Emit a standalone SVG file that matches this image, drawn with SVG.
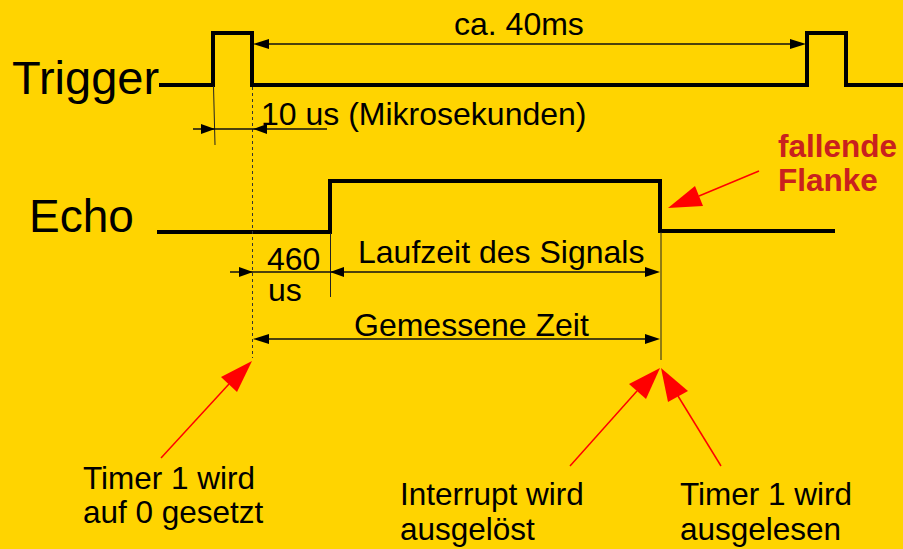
<svg xmlns="http://www.w3.org/2000/svg" width="903" height="549" viewBox="0 0 903 549">
<style>
.t{font-family:"Liberation Sans",Arial,sans-serif;font-size:32px;fill:#000}
.n{font-size:31.5px}
.big{font-size:47px}
.red{fill:#c9211e;font-weight:bold;font-size:31.5px}
.sig{fill:none;stroke:#000;stroke-width:4;stroke-linejoin:miter}
.dim{stroke:#111;stroke-width:1.3;fill:none}
.ext{stroke:#222;stroke-width:1;fill:none}
.dash{stroke:#333;stroke-width:1;stroke-dasharray:3,3;fill:none}
.ah{fill:#000}
.rl{stroke:#ff0000;stroke-width:1.5;fill:none}
.rh{fill:#ff0000}
</style>
<rect x="0" y="0" width="903" height="549" fill="#ffd400"/>
<g id="trigger">
<text class="t big" x="12" y="94">Trigger</text>
<path class="sig" d="M159,85 H213 V33 H252 V85 H807 V33 H846 V85 H903"/>
</g>
<g id="echo">
<text class="t big" x="29" y="232" style="font-size:46px">Echo</text>
<path class="sig" d="M157,232 H330 V181 H660 V231 H835"/>
</g>
<g id="labels">
<text class="t" x="454" y="35">ca. 40ms</text>
<text class="t" x="261" y="125">10 us (Mikrosekunden)</text>
<text class="t" x="267" y="270">460</text>
<text class="t" x="268" y="301">us</text>
<text class="t" x="358" y="263">Laufzeit des Signals</text>
<text class="t" x="354" y="336">Gemessene Zeit</text>
<text class="t red" x="778" y="157">fallende</text>
<text class="t red" x="778" y="191">Flanke</text>
</g>
<g id="note-timer-reset">
<text class="t n" x="83" y="489">Timer 1 wird</text>
<text class="t n" x="83" y="523">auf 0 gesetzt</text>
</g>
<g id="note-interrupt">
<text class="t n" x="400" y="505">Interrupt wird</text>
<text class="t n" x="400" y="540">ausgelöst</text>
</g>
<g id="note-timer-read">
<text class="t n" x="680" y="505">Timer 1 wird</text>
<text class="t n" x="680" y="540">ausgelesen</text>
</g>
<g id="connectors">
<line class="ext" x1="213.5" y1="86" x2="215" y2="145"/>
<line class="dash" x1="252.5" y1="87" x2="252.5" y2="358"/>
<line class="ext" x1="330.5" y1="233" x2="330.5" y2="297"/>
<line class="ext" x1="661" y1="232" x2="661" y2="360"/>
<line class="dim" x1="262" y1="44" x2="798" y2="44"/>
<polygon class="ah" points="253,44 269,39 269,49"/>
<polygon class="ah" points="806,44 790,39 790,49"/>
<line class="dim" x1="193" y1="129" x2="327" y2="129"/>
<polygon class="ah" points="215,129 201,124 201,134"/>
<polygon class="ah" points="253,129 267,124 267,134"/>
<line class="dim" x1="230" y1="272" x2="652" y2="272"/>
<polygon class="ah" points="253,272 239,267 239,277"/>
<polygon class="ah" points="330,272 344,267 344,277"/>
<polygon class="ah" points="660,272 645,267 645,277"/>
<line class="dim" x1="262" y1="339" x2="652" y2="339"/>
<polygon class="ah" points="253,339 269,334 269,344"/>
<polygon class="ah" points="660,339 645,334 645,344"/>
<line class="rl" x1="759" y1="171" x2="699" y2="196"/>
<polygon class="rh" points="668,208 695,186 703,206"/>
<line class="rl" x1="161" y1="458" x2="229" y2="384"/>
<polygon class="rh" points="252,361 221,377 237,392"/>
<line class="rl" x1="570" y1="466" x2="637" y2="391"/>
<polygon class="rh" points="660,368 629,384 646,399"/>
<line class="rl" x1="721" y1="466" x2="678" y2="396"/>
<polygon class="rh" points="661,368 688,391 668,402"/>
</g>
</svg>
